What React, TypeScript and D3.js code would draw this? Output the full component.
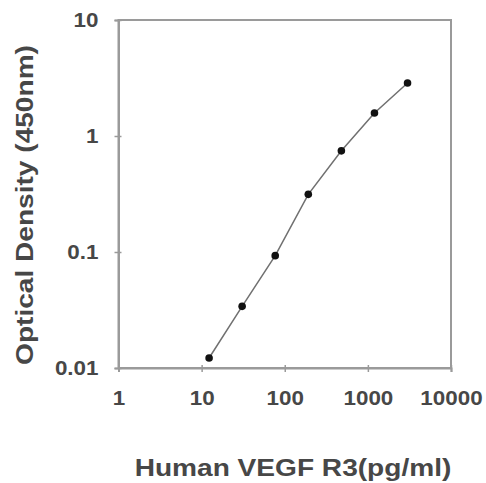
import React, { useEffect, useRef } from 'react'
import * as d3 from 'd3'

// standard curve
const concentration = [12.3, 30.7, 76.8, 192, 480, 1200, 3000]
const opticalDensity = [0.0122, 0.034, 0.093, 0.314, 0.745, 1.58, 2.86]
const xTicks = [1, 10, 100, 1000, 10000]
const yTicks = [0.01, 0.1, 1, 10]
const xLabel = 'Human VEGF R3(pg/ml)'
const yLabel = 'Optical Density (450nm)'

const App: React.FC = () => {
  const svgRef = useRef<SVGSVGElement>(null)

  useEffect(() => {
    if (!svgRef.current) return
    const width = 486
    const height = 483
    const margin = { top: 20, right: 35, bottom: 115, left: 118.5 }
    const innerWidth = width - margin.left - margin.right
    const innerHeight = height - margin.top - margin.bottom

    const textColor = '#474747'
    const axisColor = '#9a9a9a'
    const font = 'Arial, "Liberation Sans", sans-serif'

    const xScale = d3.scaleLog().domain([1, 10000]).range([0, innerWidth])
    const yScale = d3.scaleLog().domain([0.01, 10]).range([innerHeight, 0])

    const svg = d3.select(svgRef.current)
    svg.selectAll('*').remove()
    svg.attr('width', width).attr('height', height)

    const g = svg.append('g').attr('transform', `translate(${margin.left},${margin.top})`)

    // plot frame
    g.append('rect')
      .attr('width', innerWidth)
      .attr('height', innerHeight)
      .attr('fill', 'none')
      .attr('stroke', axisColor)
      .attr('stroke-width', 2)

    // X axis
    const xAxis = g
      .append('g')
      .attr('transform', `translate(0,${innerHeight})`)
      .call(
        d3
          .axisBottom(xScale)
          .tickValues(xTicks)
          .tickSize(4)
          .tickPadding(19)
          .tickFormat((d) => String(d)),
      )
    xAxis.selectAll('.tick line').attr('y1', -3)

    // Y axis
    const yAxis = g.append('g').call(
      d3
        .axisLeft(yScale)
        .tickValues(yTicks)
        .tickSize(4)
        .tickPadding(16)
        .tickFormat((d) => String(d)),
    )
    yAxis.selectAll('.tick line').attr('x1', 3)

    svg.selectAll('.domain').attr('stroke', axisColor).attr('stroke-width', 2)
    svg.selectAll('.tick line').attr('stroke', axisColor).attr('stroke-width', 1.5)
    svg
      .selectAll('.tick text')
      .attr('class', 'ticklabel')
      .attr('fill', textColor)
      .style('font-family', font)
      .style('font-size', '20px')
      .style('font-weight', 'bold')

    // line and points
    const points = concentration.map((c, i) => [c, opticalDensity[i]] as [number, number])
    const line = d3
      .line<[number, number]>()
      .x((d) => xScale(d[0]))
      .y((d) => yScale(d[1]))

    g.append('path')
      .attr('d', line(points))
      .attr('fill', 'none')
      .attr('stroke', '#707070')
      .attr('stroke-width', 1.5)

    g.selectAll('circle.pt')
      .data(points)
      .enter()
      .append('circle')
      .attr('class', 'pt')
      .attr('cx', (d) => xScale(d[0]))
      .attr('cy', (d) => yScale(d[1]))
      .attr('r', 3.8)
      .attr('fill', '#111')

    // axis titles
    svg
      .append('text')
      .attr('class', 'title')
      .attr('x', 293)
      .attr('y', 476)
      .attr('text-anchor', 'middle')
      .text(xLabel)

    svg
      .append('text')
      .attr('class', 'title')
      .attr('transform', `translate(33,${margin.top + 185}) rotate(-90)`)
      .attr('text-anchor', 'middle')
      .text(yLabel)

    svg
      .selectAll('.title')
      .attr('fill', textColor)
      .style('font-family', font)
      .style('font-size', '24px')
      .style('font-weight', 'bold')

    // the source image is a bit wider than tall, stretch the text to match
    const stretchText = (sel: string, k: number) =>
      svg.selectAll<SVGTextElement, unknown>(sel).each(function () {
        const len = this.getComputedTextLength()
        d3.select(this).attr('textLength', len * k).attr('lengthAdjust', 'spacingAndGlyphs')
      })
    stretchText('.ticklabel', 1.12)
    stretchText('.title', 1.17)
  }, [])

  return <svg ref={svgRef} style={{ position: 'absolute', left: 0, top: 0, background: '#fff' }}></svg>
}

export default App
